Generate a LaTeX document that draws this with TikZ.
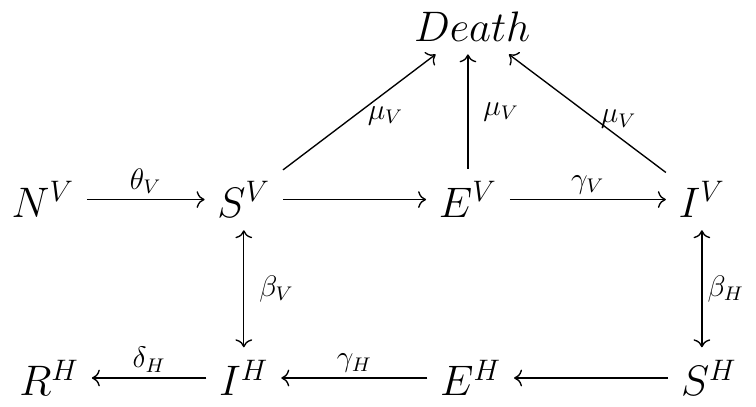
\documentclass[tikz,border=0pt]{standalone}
\usepackage{amsmath}
\usetikzlibrary{arrows.meta}

\begin{document}
\begin{tikzpicture}[
    comp/.style={font=\LARGE, inner sep=5pt},
    rate/.style={font=\large, inner sep=2pt},
    flow/.style={-{To[scale=1.15]}, line width=0.55pt}]
  \useasboundingbox (0,0) rectangle (10.76,5.79);

  % Kompartimente
  \node[comp] (death) at (6.72,5.41) {$Death$};
  \node[comp] (nv) at (0.61,2.95) {$N^V$};
  \node[comp] (sv) at (3.47,2.95) {$S^V$};
  \node[comp] (ev) at (6.66,2.95) {$E^V$};
  \node[comp] (iv) at (9.99,2.95) {$I^V$};
  \node[comp] (rh) at (0.70,0.41) {$R^H$};
  \node[comp] (ih) at (3.47,0.41) {$I^H$};
  \node[comp] (eh) at (6.70,0.41) {$E^H$};
  \node[comp] (sh) at (10.09,0.41) {$S^H$};

  % Vektor
  \draw[flow] (nv) -- node[rate, above] {$\theta_V$} (sv);
  \draw[flow] (sv) -- (ev);
  \draw[flow] (ev) -- node[rate, above] {$\gamma_V$} (iv);

  % Sterberaten
  \draw[flow] (sv) -- node[rate, right, pos=0.47, xshift=3pt] {$\mu_V$} (death);
  \draw[flow] (ev.north) -- node[rate, right, xshift=4pt] {$\mu_V$} (ev.north |- death.south);
  \draw[flow] (iv) -- node[rate, right, pos=0.45] {$\mu_V$} (death);

  % Infektion
  \draw[{To[scale=1.15]}-{To[scale=1.15]}, line width=0.55pt] (sv) -- node[rate, right, xshift=4pt] {$\beta_V$} (ih);
  \draw[{To[scale=1.15]}-{To[scale=1.15]}, line width=0.55pt] (iv.south) -- node[rate, right] {$\beta_H$} (iv.south |- sh.north);

  % Wirt
  \draw[flow] (sh) -- (eh);
  \draw[flow] (eh) -- node[rate, above] {$\gamma_H$} (ih);
  \draw[flow] (ih) -- node[rate, above] {$\delta_H$} (rh);
\end{tikzpicture}
\end{document}
